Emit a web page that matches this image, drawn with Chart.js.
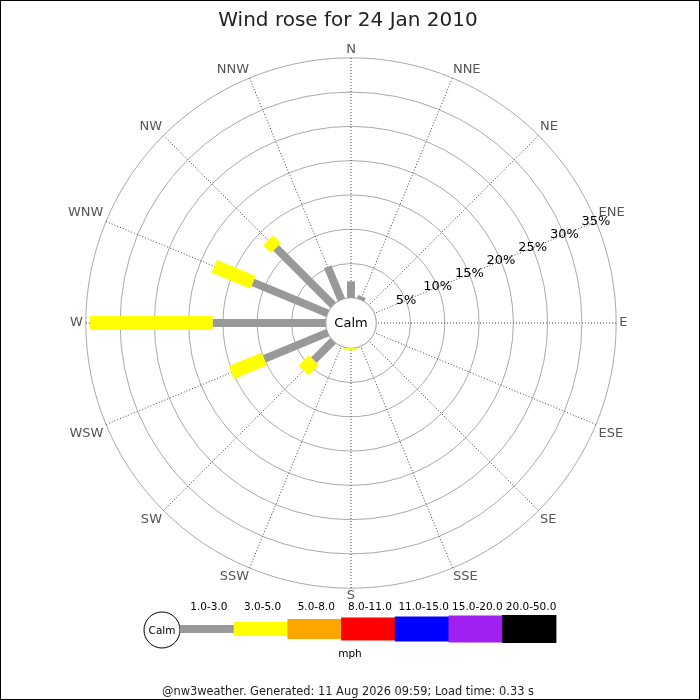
<!DOCTYPE html>
<html>
<head>
<meta charset="utf-8">
<title>Wind rose for 24 Jan 2010</title>
<script src="https://cdn.jsdelivr.net/npm/chart.js@4.4.1/dist/chart.umd.min.js"></script>
<style>
  body { margin: 0; background: #fff; }
  #wrap { width: 700px; height: 700px; }
</style>
</head>
<body>
<div id="wrap"><canvas id="rose"></canvas></div>
<script>
// wind directions, clockwise from north
const DIRECTIONS = ['N', 'NNE', 'NE', 'ENE', 'E', 'ESE', 'SE', 'SSE',
                    'S', 'SSW', 'SW', 'WSW', 'W', 'WNW', 'NW', 'NNW'];
const SPEED_BANDS = ['1.0-3.0', '3.0-5.0', '5.0-8.0', '8.0-11.0', '11.0-15.0', '15.0-20.0', '20.0-50.0'];
// % of time per direction in each speed band (mph)
const PCT_1_3 = [2.4, 0.5, 0, 0, 0, 0, 0, 0, 0, 0, 4.0, 10.0, 16.5, 11.8, 11.8, 5.2];
const PCT_3_5 = [0, 0, 0, 0, 0, 0, 0, 0, 0.3, 0, 2.1, 5.2, 17.9, 6.1, 1.6, 0];
const RING_TICKS = [0, 5, 10, 15, 20, 25, 30, 35];

const BAND_COLORS = ['#999999', '#ffff00', '#ffa500', '#ff0000', '#0000ff', '#a020f0', '#000000'];
const BAND_WIDTHS = [8, 14, 20, 23, 25, 27, 28];
const FONT = 'DejaVu Sans';

const bands = [PCT_1_3, PCT_3_5];
let running = DIRECTIONS.map(() => 0);
const datasets = bands.map((vals, b) => {
    running = running.map((v, i) => v + vals[i]);
    return {
        label: SPEED_BANDS[b],
        data: running.slice(),
        showLine: false,
        fill: false,
        pointRadius: 0,
        pointHoverRadius: 0,
        borderWidth: 0,
    };
});

const roseBars = {
    id: 'roseBars',
    beforeDraw(chart) {
        const ctx = chart.ctx;
        ctx.save();
        ctx.fillStyle = '#fff';
        ctx.fillRect(0, 0, chart.width, chart.height);
        ctx.restore();
    },
    afterDatasetsDraw(chart) {
        const ctx = chart.ctx;
        const r = chart.scales.r;
        ctx.save();

        // calm circle
        const calmR = r.getDistanceFromCenterForValue(0);
        ctx.beginPath();
        ctx.arc(r.xCenter, r.yCenter, calmR, 0, Math.PI * 2);
        ctx.fillStyle = '#fff';
        ctx.fill();
        ctx.lineWidth = 1;
        ctx.strokeStyle = '#aaaaaa';
        ctx.stroke();
        ctx.fillStyle = '#000';
        ctx.font = '13px "' + FONT + '"';
        ctx.textAlign = 'center';
        ctx.textBaseline = 'middle';
        ctx.fillText('Calm', r.xCenter, r.yCenter + 1);

        // stacked bars
        ctx.lineCap = 'butt';
        bands.forEach((vals, b) => {
            const pts = chart.getDatasetMeta(b).data;
            pts.forEach((pt, i) => {
                if (!vals[i]) return;
                const start = b === 0 ? r.getPointPositionForValue(i, 0) : chart.getDatasetMeta(b - 1).data[i];
                ctx.beginPath();
                ctx.moveTo(start.x, start.y);
                ctx.lineTo(pt.x, pt.y);
                ctx.lineWidth = BAND_WIDTHS[b];
                ctx.strokeStyle = BAND_COLORS[b];
                ctx.stroke();
            });
        });

        // ring labels along ENE
        const ene = DIRECTIONS.indexOf('ENE');
        ctx.fillStyle = '#000';
        ctx.font = '13px "' + FONT + '"';
        RING_TICKS.slice(1).forEach(v => {
            const p = r.getPointPositionForValue(ene, v);
            ctx.fillText(v + '%', p.x, p.y);
        });
        ctx.restore();
    },
    afterDraw(chart) {
        const ctx = chart.ctx;
        ctx.save();
        // speed legend
        const x0 = 180, segW = 53.7, cy = 629;
        ctx.beginPath();
        ctx.arc(162, 630, 18, 0, Math.PI * 2);
        ctx.lineWidth = 1;
        ctx.strokeStyle = '#000';
        ctx.stroke();
        ctx.fillStyle = '#000';
        ctx.font = '10.5px "' + FONT + '"';
        ctx.textAlign = 'center';
        ctx.textBaseline = 'middle';
        ctx.fillText('Calm', 162, 631);
        SPEED_BANDS.forEach((lab, b) => {
            const x = x0 + b * segW;
            ctx.fillStyle = BAND_COLORS[b];
            ctx.fillRect(x, cy - BAND_WIDTHS[b] / 2, segW + 0.5, BAND_WIDTHS[b]);
            ctx.fillStyle = '#000';
            ctx.fillText(lab, x + segW / 2 + 2, 607);
        });
        ctx.fillText('mph', 350, 654);
        // footer
        ctx.fillStyle = '#222';
        ctx.font = '11.4px "' + FONT + '"';
        ctx.fillText('@nw3weather. Generated: 11 Aug 2026 09:59; Load time: 0.33 s', 348, 692);
        // frame
        ctx.strokeStyle = '#000';
        ctx.lineWidth = 1;
        ctx.strokeRect(0.5, 0.5, chart.width - 1, chart.height - 1);
        ctx.restore();
    }
};

new Chart(document.getElementById('rose'), {
    type: 'radar',
    data: { labels: DIRECTIONS, datasets: datasets },
    options: {
        responsive: true,
        maintainAspectRatio: false,
        animation: false,
        events: [],
        layout: { padding: { left: 65, right: 69, top: 4, bottom: 93 } },
        plugins: {
            legend: { display: false },
            tooltip: { enabled: false },
            title: {
                display: true,
                text: 'Wind rose for 24 Jan 2010',
                color: '#222',
                font: { family: FONT, size: 20, weight: 'normal' },
                padding: { top: 5, bottom: 8 },
            },
        },
        scales: {
            r: {
                min: -3.68,
                max: 35,
                afterBuildTicks: (scale) => {
                    scale.ticks = RING_TICKS.map(v => ({ value: v }));
                },
                ticks: { display: false },
                grid: { color: '#aaaaaa', lineWidth: 1, circular: true },
                angleLines: { color: '#444', lineWidth: 1, borderDash: [1, 2] },
                pointLabels: {
                    color: '#555',
                    padding: (c) => 3 * Math.abs(Math.sin(c.index * Math.PI / 8)),
                    font: { family: FONT, size: 13 },
                },
            },
        },
    },
    plugins: [roseBars],
});
</script>
</body>
</html>
